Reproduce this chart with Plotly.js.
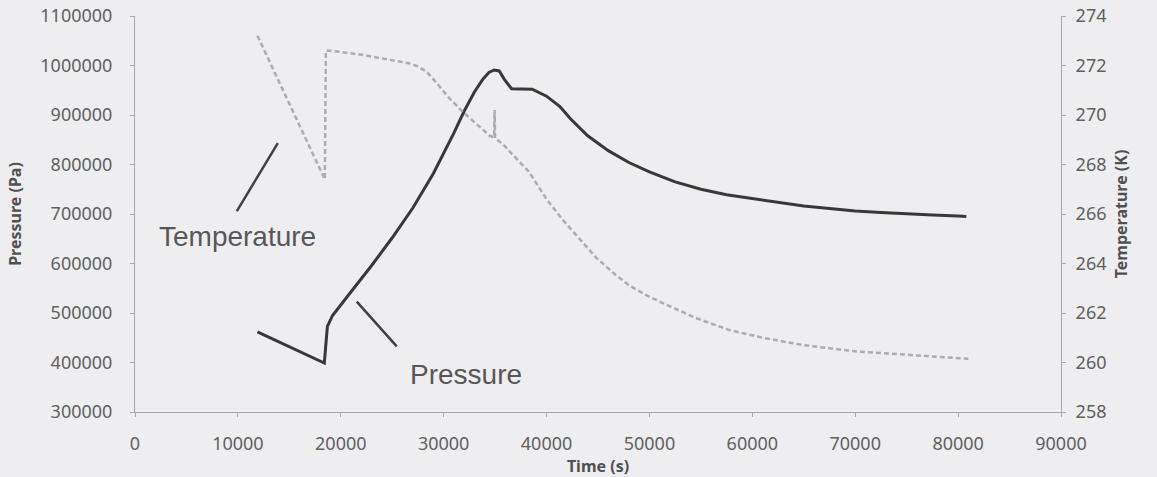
<!DOCTYPE html>
<html>
<head>
<meta charset="utf-8">
<script src="https://cdn.plot.ly/plotly-3.0.1.min.js"></script>
<style>
  html, body { margin: 0; padding: 0; background: #eeeef0; }
  #chart { width: 1157px; height: 477px; }
</style>
</head>
<body>
<div id="chart"></div>
<script>
// Pressure series (Pa) vs time (s)
const pressureTime = [11900, 18400, 18700, 19200, 21000, 23000, 25000, 27000, 29000, 30000, 31000, 32000, 33000, 33800, 34400, 34900, 35400, 35900, 36600, 38600, 40000, 41300, 42300, 44000, 46000, 48000, 50000, 52500, 55000, 57500, 60000, 62500, 65000, 67500, 70000, 72500, 75000, 77500, 80000, 80800];
const pressureValues = [462000, 399000, 473000, 495000, 543000, 596000, 652000, 712000, 782000, 822000, 864000, 908000, 947000, 972000, 986000, 991000, 989000, 972000, 953000, 952000, 938000, 917000, 893000, 858000, 828000, 804000, 785000, 765000, 750000, 739000, 731000, 723000, 716000, 711000, 706000, 703000, 700000, 698000, 696000, 695000];

// Temperature series (K) vs time (s)
const temperatureTime = [11900, 18450, 18550, 19000, 22100, 24800, 26500, 27400, 28350, 29300, 30500, 31800, 33300, 34500, 34900, 34950, 35000, 35700, 36700, 38300, 40000, 41500, 43200, 44800, 46400, 48000, 49700, 51300, 54500, 57700, 61000, 65000, 70000, 75000, 81000];
const temperatureValues = [273.2, 267.4, 272.6, 272.6, 272.43, 272.23, 272.1, 271.98, 271.75, 271.3, 270.7, 270.15, 269.6, 269.15, 269.1, 270.2, 269.05, 268.85, 268.4, 267.7, 266.6, 265.8, 265.0, 264.25, 263.65, 263.12, 262.72, 262.4, 261.8, 261.32, 261.0, 260.7, 260.45, 260.3, 260.15];

// Axis tick labels
const xTicks = [0, 10000, 20000, 30000, 40000, 50000, 60000, 70000, 80000, 90000];
const pressureTicks = [300000, 400000, 500000, 600000, 700000, 800000, 900000, 1000000, 1100000];
const temperatureTicks = [258, 260, 262, 264, 266, 268, 270, 272, 274];

// Callout labels
const labelTexts = ["Temperature", "Pressure"];
const labelAnchors = [[10000, 654000], [32200, 376000]];
const calloutLines = [[[9900, 706000], [13880, 843000]], [[21550, 523000], [25440, 432700]]];

const tickFont = {family: "Noto Sans, Open Sans, sans-serif", size: 18, color: "#606060"};
const titleFont = {family: "Noto Sans, Open Sans, sans-serif", size: 16, color: "#505050", weight: "bold"};

const traces = [
  {
    x: temperatureTime, y: temperatureValues, yaxis: "y2", type: "scatter", mode: "lines",
    line: {color: "#acacac", width: 2.5, dash: "5px,3px"}, name: "Temperature", hoverinfo: "skip"
  },
  {
    x: pressureTime, y: pressureValues, type: "scatter", mode: "lines",
    line: {color: "#383838", width: 3}, name: "Pressure", hoverinfo: "skip"
  }
];

const axisCommon = {
  showgrid: false, zeroline: false, showline: true, linecolor: "#a8a8a8", linewidth: 1,
  ticks: "outside", ticklen: 4, tickcolor: "#a8a8a8", tickfont: tickFont
};

const layout = {
  width: 1157, height: 477,
  paper_bgcolor: "#eeeef0", plot_bgcolor: "#eeeef0",
  showlegend: false,
  margin: {l: 135, r: 96, t: 16, b: 65},
  xaxis: Object.assign({}, axisCommon, {
    range: [0, 90000], tickvals: xTicks, ticktext: xTicks.map(String),
    ticklabelstandoff: 11,
    title: {text: "Time (s)", font: titleFont, standoff: 2}
  }),
  yaxis: Object.assign({}, axisCommon, {
    range: [300000, 1100000], tickvals: pressureTicks, ticktext: pressureTicks.map(String),
    ticklabelstandoff: 14,
    title: {text: "Pressure (Pa)", font: titleFont, standoff: 14}
  }),
  yaxis2: Object.assign({}, axisCommon, {
    overlaying: "y", side: "right",
    range: [258, 274], tickvals: temperatureTicks, ticktext: temperatureTicks.map(String),
    ticklabelstandoff: 6,
    title: {text: "Temperature (K)", font: titleFont, standoff: 10}
  }),
  annotations: labelTexts.map((t, i) => ({
    x: labelAnchors[i][0], y: labelAnchors[i][1], xref: "x", yref: "y",
    text: t, showarrow: false, xanchor: "center", yanchor: "middle",
    font: {family: "Liberation Sans, Arial, sans-serif", size: 28, color: "#575757"}
  })),
  shapes: calloutLines.map(seg => ({
    type: "line", xref: "x", yref: "y",
    x0: seg[0][0], y0: seg[0][1], x1: seg[1][0], y1: seg[1][1],
    line: {color: "#404040", width: 2.5}
  }))
};

Plotly.newPlot("chart", traces, layout, {displayModeBar: false, staticPlot: true});
</script>
</body>
</html>
